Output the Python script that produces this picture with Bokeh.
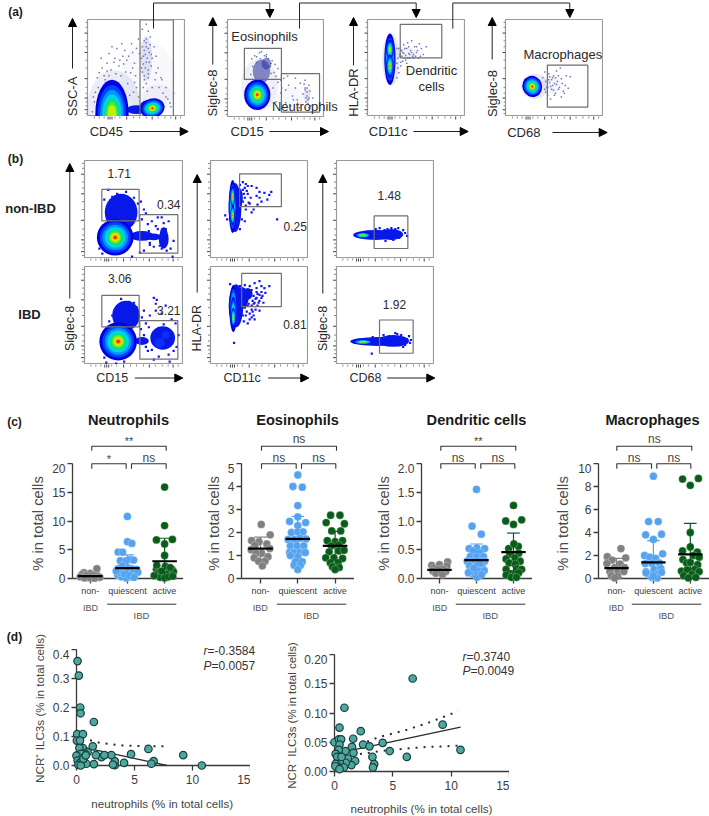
import math
from bokeh.plotting import figure
from bokeh.layouts import column
from bokeh.models import FixedTicker, Range1d, Label
from bokeh.embed import file_html
from bokeh.resources import INLINE

FONT = "Liberation Sans"
GRAY, BLUE, GREEN = "#808080", "#55a2ee", "#0a5c1a"
TEAL, TEAL_EDGE = "#4fa8a0", "#17403c"
TXT = "#3c3c3c"

# ---------- panel (c) data: (x jitter in category units, value) ----------
neu_gray_x = [.18, -.17, 0, -.22, .1, -.1, .2, -.27, -.05, .1, .26, -.15, 0, .12]
neu_gray_y = [1.7, 1.0, .9, .7, .6, .5, .45, .3, .3, .2, .2, .1, .1, .05]
neu_blue_x = [0, 0, .12, -.25, -.13, -.19, -.03, .08, .17, -.25, -.1, .11, .24, -.26, -.16, -.03, .09, .2, .02, -.2, -.08, .14, -.3, .28, .0, -.14, .06, .18]
neu_blue_y = [10.8, 6.4, 6.1, 4.6, 4.6, 3.1, 3.1, 3.3, 3.2, 1.7, 1.6, 1.7, 1.6, .6, .3, .1, .3, .6, 1.2, 1.0, .8, 1.0, 1.3, 1.1, 1.9, 2.2, .5, .2]
neu_green_x = [0, 0, -.22, .21, 0, 0, -.22, .2, -.18, .1, .24, -.12, 0, .11, -.21, .02, -.28, .22, -.08, .15]
neu_green_y = [15.9, 9.2, 6.7, 6.8, 6.0, 4.0, 1.6, 1.6, .9, .9, 1.2, .2, .1, .3, 2.3, 2.1, .5, .4, 1.3, 1.9]

eos_gray_x = [.02, .26, -.24, -.04, .17, -.15, .25, -.25, .03, -.12, .2, -.17, .12, -.05, .05]
eos_gray_y = [2.35, 1.9, 1.65, 1.6, 1.5, 1.45, 1.3, 1.25, 1.1, 1.1, .95, .9, .75, .75, .55]
eos_blue_x = [0, -.13, .12, 0, 0, -.22, .21, 0, -.17, 0, .14, -.26, -.09, .07, .22, -.2, -.02, .16, -.22, -.11, .07, .2, 0, -.2, -.06, .12, -.1, .07, 0]
eos_blue_y = [4.5, 4.0, 3.97, 3.17, 2.68, 2.48, 2.43, 2.3, 2.0, 2.03, 2.03, 1.7, 1.7, 1.75, 1.72, 1.42, 1.42, 1.42, 1.13, 1.13, 1.13, 1.13, .95, 1.0, .73, .73, .58, .58, .39]
eos_green_x = [-.12, .13, -.24, .25, -.09, .15, -.21, 0, .2, -.1, .1, -.16, .1, .24, -.25, -.03, .2, -.13, .08, -.07, .11, 0]
eos_green_y = [2.75, 2.75, 2.43, 2.38, 2.07, 2.07, 1.65, 1.6, 1.65, 1.42, 1.45, 1.16, 1.2, 1.23, .9, .9, .87, .68, .68, .51, .48, .39]

den_gray_x = [.22, .2, 0, -.21, -.16, .05, .12, -.08, -.18, .02, .17, -.1, .08]
den_gray_y = [.29, .22, .24, .23, .18, .17, .16, .15, .13, .12, .12, .09, .07]
den_blue_x = [0, -.12, .13, -.2, .01, .22, -.1, .1, -.17, 0, .19, -.25, -.09, .07, .22, -.19, -.02, .15, -.13, .06, .21, -.05, .01, -.22, .14, -.08, .1]
den_blue_y = [1.55, .91, .77, .52, .53, .52, .48, .45, .38, .38, .38, .3, .3, .3, .3, .22, .22, .22, .14, .14, .14, .08, .02, .1, .07, .18, .26]
den_green_x = [0, -.21, .22, 0, .13, -.13, .01, -.1, .14, -.2, .04, .18, -.12, .05, -.2, .1, .22, -.08, .04, -.2, .14, -.06, .08]
den_green_y = [1.27, 1.0, 1.02, .94, .56, .52, .6, .42, .44, .34, .36, .3, .27, .25, .16, .17, .16, .08, .07, .06, .1, .02, .02]

mac_gray_x = [.12, -.25, .25, -.12, -.26, .1, -.05, .22, -.18, .04, .2, -.14, .03, -.05]
mac_gray_y = [2.6, 1.9, 1.8, 1.6, 1.3, 1.25, .95, .95, .6, .55, .6, .25, .2, .05]
mac_blue_x = [0, -.13, .13, -.21, .22, 0, -.24, -.1, .06, .25, -.22, -.04, .16, -.2, .02, .2, -.12, .09, -.2, .22, -.04, .1, 0]
mac_blue_y = [8.9, 4.95, 4.95, 3.8, 3.85, 3.4, 2.0, 1.85, 1.75, 2.15, 1.3, 1.3, 1.35, .6, .8, .85, .35, .35, .5, .55, .1, .05, .2]
mac_green_x = [-.21, .22, 0, 0, 0, -.21, .19, -.2, .09, .24, -.1, 0, .2, -.24, -.09, .12, .24, -.18, .05, -.05, .15]
mac_green_y = [8.65, 8.7, 8.1, 4.0, 2.75, 2.4, 2.3, 1.65, 2.0, 1.85, 1.35, 1.4, 1.2, .65, .75, .8, .6, .25, .35, .05, .1]

c_means = {"Neutrophils": [.4, 1.8, 3.0], "Eosinophils": [1.3, 1.72, 1.42], "Dendritic": [.15, .32, .46], "Macrophages": [.9, 1.4, 2.1]}
c_hi = {"Neutrophils": [.9, 4.1, 7.0], "Eosinophils": [1.8, 2.7, 2.05], "Dendritic": [.2, .6, .79], "Macrophages": [1.75, 3.3, 4.8]}
c_lo = {"Neutrophils": [0, 0, 0], "Eosinophils": [.8, .75, .8], "Dendritic": [.1, .03, .13], "Macrophages": [.05, 0, 0]}
c_groups = {0: "non-", 1: "quiescent", 2: "active"}

# ---------- panel (d) data ----------
d1_x = [.09, .2, .32, .35, 1.5, .06, .55, .03, .3, 1.4, 6.2, 9.2, 10.8, 6.65, 6.45, 4.7, 4.1, 3.3, 3.3, 3.0, 3.15, 2.15, 2.4, 1.67, 1.5, .85, .55, .25, .95, .75, .4, 0, .45, .1, .3, .17, .37, .6, .8]
d1_y = [.36, .31, .2, .18, .15, .108, .108, .086, .086, .066, .057, .036, 0, .015, .006, .039, .009, .001, .015, .036, .003, .029, .036, .036, .005, .006, .06, .06, .046, .04, .04, .034, .025, .017, .009, .002, 0, .023, .035]
d1_fit_x, d1_fit_y = [0, 7.8], [.068, 0]
d1_band_x, d1_band_y = [.5, 2, 4, 6, 7.8], [.095, .078, .069, .066, .066]

d2_x = [6.7, .85, 9.27, .43, 2.25, 10.8, 1.6, 4.13, 0, .37, .57, .43, 2.45, 3.0, 1.5, 4.73, 6.2, 3.25, 1.63, .94, .37, .1, 3.4, 3.3, 1.77, 1.14, 1.45, .97, .45, .23, .6, .1, .37, .8, .08, .43]
d2_y = [.159, .109, .08, .075, .069, .037, .056, .049, .05, .055, .055, .046, .046, .043, .042, .035, .025, .025, .032, .035, .037, .03, .0125, .007, .018, .022, .011, .015, .016, .025, .025, .013, .007, .007, .009, .004]
d2_fit_x, d2_fit_y = [0, 10.8], [.03, .076]
d2_up_x, d2_up_y = [1.5, 4, 6, 8, 10.6], [.042, .06, .07, .083, .103]
d2_lo_x, d2_lo_y = [1.5, 4, 6, 8, 10.6], [.028, .035, .039, .042, .044]

# ---------- flow cytometry panels: gates, density blobs, sparse events ----------
LEVELS = [(1.0, "#0000e6"), (.84, "#0044ff"), (.70, "#0094ff"), (.57, "#00d4ea"), (.45, "#00e08c"),
          (.35, "#50e830"), (.26, "#c0f000"), (.18, "#ffd000"), (.12, "#ff7000"), (.07, "#ee1000")]
LEFT_TICKS = [.07, .19, .39, .66, .86]
LEFT_MINOR = [.03, .11, .15, .24, .30, .50, .58, .72, .78, .92, .97]
BOTTOM_TICKS = [.21, .23, .25, .4, .66, .9]
BOTTOM_MINOR = [.07, .12, .17, .28, .33, .47, .53, .6, .72, .79, .85, .95]

a1_gates = [(.536, .876, 0, .995)]
a1_haze = [(.27, .1, .54, .76, .12), (.6, .6, .12, .46, .16), (.62, .42, .55, .7, .04), (.72, .2, .32, .26, .08)]
a1_blue = [(.5, .07, .2, .09, 0), (.6, .09, .14, .15, 0)]
a1_blobs = [(.25, .03, .34, .7, 7, 0), (.663, .085, .25, .2, 10, .25)]
a1_dots_x = [.05, .08, .1, .12, .15, .18, .2, .24, .28, .32, .36, .4, .44, .48, .5, .53, .56, .6, .64, .68, .72, .76, .8, .07, .14, .22, .3, .38, .46, .52, .58, .62, .66, .7, .75, .48, .55, .6, .63, .57, .6, .62, .58, .65, .7, .82, .85, .45, .35, .25,
             .56, .58, .6, .62, .64, .55, .57, .59, .61, .63, .56, .59, .62, .65, .58, .6, .62, .57, .61, .6, .5, .47, .43, .41, .39, .34, .29, .22, .17, .11, .06, .49, .52, .66, .69, .73, .77, .8, .84, .88, .46, .42, .37, .33, .27, .2]
a1_dots_y = [.05, .25, .4, .45, .5, .38, .55, .48, .6, .52, .62, .58, .45, .55, .7, .65, .9, .95, .82, .72, .5, .38, .3, .15, .6, .65, .7, .68, .66, .8, .78, .88, .6, .45, .4, .35, .5, .72, .66, .62, .56, .48, .42, .52, .62, .18, .1, .75, .75, .72,
             .72, .68, .76, .7, .74, .6, .54, .64, .6, .56, .46, .5, .44, .64, .38, .34, .4, .3, .26, .8, .3, .25, .22, .34, .46, .42, .44, .42, .42, .3, .2, .42, .2, .3, .38, .3, .24, .2, .14, .24, .5, .62, .54, .58, .56, .47]

a2_gates = [(.174, .556, .389, .706), (.556, .949, .055, .447)]
a2_haze = [(.33, .33, .38, .54, .1), (.65, .2, .28, .22, .05), (.82, .22, .07, .16, .16)]
a2_blue = [(.35, .47, .18, .24, -2), (.4, .55, .1, .12, -2)]
a2_blobs = [(.307, .232, .27, .31, 10, 0)]
a2_dots_x = [.3, .25, .45, .5, .55, .58, .6, .63, .67, .7, .72, .75, .78, .8, .81, .82, .83, .84, .8, .84, .6, .65, .7, .5, .45, .4, .35, .55, .62, .68, .74, .52, .47,
             .26, .3, .34, .38, .42, .46, .49, .24, .28, .33, .4, .44, .48, .52, .56, .8, .82, .84, .81, .83, .85, .79, .82, .86, .88]
a2_dots_y = [.62, .6, .55, .42, .38, .4, .28, .33, .22, .3, .18, .35, .24, .3, .2, .26, .14, .1, .38, .33, .15, .12, .4, .16, .45, .62, .67, .25, .42, .18, .1, .5, .3,
             .52, .56, .6, .63, .6, .58, .54, .44, .63, .66, .64, .52, .46, .36, .3, .28, .22, .2, .16, .18, .27, .34, .3, .12, .2]

a3_gates = [(.334, .758, .604, .949)]
a3_haze = [(.24, .59, .18, .54, .14), (.38, .66, .24, .12, .06)]
a3_blue = []
a3_blobs = [(.229, .59, .115, .53, 4, 0), (.229, .69, .075, .2, 7, 0), (.229, .52, .075, .24, 10, 0)]
a3_dots_x = [.33, .36, .38, .4, .42, .44, .46, .48, .5, .52, .55, .57, .6, .34, .37, .41, .45, .49, .53, .35, .39, .43, .47, .51, .3, .31, .3,
             .31, .33, .35, .37, .39, .41, .43, .45, .32, .34, .36, .38, .4, .42, .3, .32, .34, .47, .5, .54]
a3_dots_y = [.62, .66, .6, .7, .65, .68, .62, .72, .66, .6, .7, .64, .72, .56, .74, .76, .78, .62, .75, .68, .58, .6, .6, .68, .7, .5, .4,
             .6, .64, .62, .65, .63, .6, .64, .66, .7, .68, .57, .7, .55, .72, .55, .45, .52, .64, .72, .62]

a4_gates = [(.427, .84, .096, .529)]
a4_haze = [(.3, .31, .28, .26, .14), (.47, .33, .2, .18, .06)]
a4_blue = []
a4_blobs = [(.273, .31, .2, .22, 10, .35)]
a4_dots_x = [.43, .45, .47, .49, .51, .53, .55, .57, .59, .44, .46, .48, .5, .52, .54, .58, .62, .6, .56, .66, .42, .4,
             .41, .43, .44, .46, .47, .49, .5, .52, .38, .4, .41, .45, .48, .51, .54, .57, .61, .64]
a4_dots_y = [.22, .35, .28, .42, .24, .36, .3, .2, .26, .44, .18, .4, .34, .47, .42, .34, .42, .24, .5, .41, .3, .46,
             .25, .3, .38, .31, .38, .27, .22, .33, .4, .28, .36, .41, .32, .4, .28, .39, .32, .29]

b11_gates = [(.175, .552, .383, .705), (.559, .943, .054, .447)]
b11_haze = []
b11_blue = [(.37, .47, .33, .38, 0), (.58, .23, .24, .1, 0), (.8, .2, .1, .2, 0), (.7, .22, .14, .07, 0), (.8, .27, .07, .1, 0)]
b11_blobs = [(.31, .215, .37, .37, 10, 0)]
b11_dots_x = [.24, .2, .28, .33, .42, .5, .54, .57, .6, .62, .58, .64, .68, .72, .76, .7, .66, .74, .78, .83, .87, .89, .85, .8, .78, .74, .6, .56, .65, .48, .18, .15, .17, .9, .82, .66]
b11_dots_y = [.7, .6, .63, .66, .68, .62, .56, .58, .5, .46, .4, .35, .38, .33, .13, .12, .14, .3, .1, .08, .1, .02, .38, .36, .42, .42, .08, .06, .28, .02, .05, .1, .18, .18, .3, .16]

b21_gates = [(.175, .552, .383, .705), (.559, .943, .054, .447)]
b21_haze = []
b21_blue = [(.42, .5, .28, .3, 0), (.79, .27, .25, .24, 0), (.58, .24, .14, .08, 0), (.76, .22, .1, .1, -1), (.82, .3, .08, .08, -1)]
b21_blobs = [(.34, .235, .38, .39, 10, 0)]
b21_dots_x = [.37, .45, .5, .53, .58, .62, .65, .6, .55, .66, .72, .78, .82, .88, .92, .95, .93, .85, .75, .7, .64, .6, .68, .73, .7, .72, .25, .28, .22, .2, .32, .4, .86, .9, .8, .62, .57]
b21_dots_y = [.67, .64, .63, .58, .48, .42, .38, .55, .5, .5, .62, .52, .6, .46, .42, .3, .18, .1, .08, .05, .14, .3, .15, .66, .68, .55, .44, .5, .02, .07, .01, .03, .03, .14, .41, .18, .36]

b12_gates = [(.297, .723, .529, .864)]
b12_haze = []
b12_blue = [(.25, .52, .13, .5, 0), (.29, .62, .08, .2, 0)]
b12_blobs = [(.226, .53, .08, .54, 4, 0), (.226, .63, .045, .22, 10, 0), (.226, .44, .045, .2, 10, 0)]
b12_dots_x = [.3, .33, .36, .38, .42, .47, .5, .55, .6, .62, .58, .52, .48, .35, .4, .44, .36, .31, .34, .38, .41, .3, .32, .35, .15, .17, .68, .42, .3, .5, .47, .33, .35, .37, .31, .33, .36, .39]
b12_dots_y = [.75, .78, .76, .74, .74, .72, .62, .67, .65, .68, .6, .58, .55, .62, .56, .5, .5, .55, .66, .66, .62, .45, .4, .38, .44, .4, .4, .47, .3, .68, .64, .7, .72, .69, .6, .58, .54, .57]

b22_gates = [(.318, .723, .59, .929)]
b22_haze = []
b22_blue = [(.26, .6, .15, .44, 0), (.32, .68, .14, .22, 0), (.38, .72, .1, .12, 0)]
b22_blobs = [(.233, .57, .08, .48, 3, 0), (.233, .52, .06, .34, 6, 0), (.233, .48, .045, .2, 10, 0)]
b22_dots_x = [.2, .3, .35, .4, .45, .5, .52, .47, .42, .55, .56, .53, .48, .44, .5, .46, .42, .38, .36, .42, .44, .6, .54, .5, .4, .38, .24, .34, .33, .45, .52, .47, .41, .44, .47, .5, .43, .46, .49, .52, .39, .42, .45, .48, .4, .43, .37, .35]
b22_dots_y = [.82, .8, .81, .8, .83, .85, .8, .78, .76, .78, .73, .7, .72, .62, .65, .56, .56, .6, .5, .48, .5, .8, .63, .55, .46, .42, .22, .44, .5, .46, .74, .68, .72, .7, .74, .71, .65, .67, .63, .68, .62, .6, .63, .6, .52, .54, .54, .58]

b13_gates = [(.384, .728, .102, .434)]
b13_haze = []
b13_blue = [(.4, .24, .46, .1, 0), (.56, .245, .24, .11, 0)]
b13_blobs = [(.27, .237, .17, .06, 10, 0)]
b13_dots_x = [.7, .66, .62, .64, .68, .6, .56, .52, .49, .44, .4, .72, .58, .63, .5]
b13_dots_y = [.26, .24, .27, .21, .29, .3, .31, .3, .29, .31, .3, .23, .19, .31, .18]

b23_gates = [(.439, .782, .115, .454)]
b23_haze = []
b23_blue = [(.42, .235, .56, .09, 0), (.58, .24, .32, .12, 0)]
b23_blobs = [(.27, .23, .21, .05, 10, 0)]
b23_dots_x = [.74, .75, .72, .7, .66, .6, .54, .48, .36, .76, .37, .68, .62]
b23_dots_y = [.29, .22, .26, .2, .3, .32, .29, .3, .11, .25, .28, .18, .31]

figs = []
PL = 50


def place(p, x, y):
    p.styles = {"position": "absolute", "left": f"{x}px", "top": f"{y}px", "max-width": "none", "max-height": "none"}
    figs.append(p)
    return p


def bare(p):
    p.grid.visible = False
    p.outline_line_color = None
    p.background_fill_color = None
    p.border_fill_color = None


flow_boxes = []


def flow(x0, x1, y0, y1, gates, haze, blue, blobs, dx, dy, dot_color, dot_size):
    w, h = round(x1 - x0), round(y1 - y0)
    p = figure(frame_width=w, frame_height=h, x_range=(0, 1), y_range=(0, 1), toolbar_location=None,
               output_backend="svg", min_border_left=PL, min_border_right=0, min_border_top=0, min_border_bottom=0,
               x_axis_location=None, y_axis_location=None)
    bare(p)
    p.outline_line_color = "#9a9a9a"
    p.outline_line_width = 1.2
    p.background_fill_color = "white"
    for cx, cy, wd, ht, al in haze:
        p.ellipse([cx], [cy], width=[wd], height=[ht], fill_color="#5a66b4", fill_alpha=al, line_color=None)
    if dx:
        p.scatter(dx, dy, size=dot_size, marker="square", color=dot_color, line_color=None)
    for cx, cy, wd, ht, ang in blue:
        col = "#0a30f8" if ang == -1 else ("#26309c" if ang == -2 else "#0818e8")
        p.ellipse([cx], [cy], width=[wd], height=[ht], fill_color=col, fill_alpha=(.55 if ang == -2 else 1),
                  line_color=None)
    for cx, cy, wd, ht, n, ang in blobs:
        for s, col in LEVELS[:n]:
            p.ellipse([cx], [cy], width=[wd * s], height=[ht * s], angle=ang, fill_color=col, line_color=None)
    for l, r, b, t in gates:
        p.quad(left=[l], right=[r], bottom=[b], top=[t], fill_color=None, line_color="#707070", line_width=1.2)
    flow_boxes.append((x0, y0, w, h))
    return place(p, x0 - PL, y0)


# panel (a)
FA, FB = "#6f78b8", 1.5
flow(87, 184.5, 19, 116, a1_gates, a1_haze, a1_blue, a1_blobs, a1_dots_x, a1_dots_y, FA, FB)
flow(227, 324, 19, 116.5, a2_gates, a2_haze, a2_blue, a2_blobs, a2_dots_x, a2_dots_y, FA, FB)
flow(367, 464.5, 19, 116, a3_gates, a3_haze, a3_blue, a3_blobs, a3_dots_x, a3_dots_y, FA, FB)
flow(505, 603, 19, 116, a4_gates, a4_haze, a4_blue, a4_blobs, a4_dots_x, a4_dots_y, FA, FB)
# panel (b)
BB, BS = "#1414f0", 2.2
flow(83.5, 182.5, 160, 258, b11_gates, b11_haze, b11_blue, b11_blobs, b11_dots_x, b11_dots_y, BB, BS)
flow(83.5, 182.5, 266, 364, b21_gates, b21_haze, b21_blue, b21_blobs, b21_dots_x, b21_dots_y, BB, BS)
flow(209.5, 308, 160, 258, b12_gates, b12_haze, b12_blue, b12_blobs, b12_dots_x, b12_dots_y, BB, BS)
flow(209.5, 308, 266, 364, b22_gates, b22_haze, b22_blue, b22_blobs, b22_dots_x, b22_dots_y, BB, BS)
flow(335.5, 433.5, 160, 258, b13_gates, b13_haze, b13_blue, b13_blobs, b13_dots_x, b13_dots_y, BB, BS)
flow(335.5, 433.5, 266, 364, b23_gates, b23_haze, b23_blue, b23_blobs, b23_dots_x, b23_dots_y, BB, BS)


def style_axis(ax, size="12px"):
    ax.axis_line_color = "#3a3a3a"
    ax.axis_line_width = 1.3
    ax.major_tick_line_color = "#3a3a3a"
    ax.major_tick_line_width = 1.3
    ax.minor_tick_line_color = None
    ax.major_tick_in, ax.major_tick_out = 0, 5
    ax.major_label_text_font = FONT
    ax.major_label_text_color = TXT
    ax.major_label_text_font_size = size
    ax.major_label_standoff = 2


def swarm(x0, y_top, y_zero, ymax, cat0, unit, ticks, labels, groups, key):
    fw = round(cat0 - x0 + 2.52 * unit)
    fh = round(y_zero - y_top)
    xs = -(cat0 - x0) / unit
    xe = xs + fw / unit
    p = figure(frame_width=fw, frame_height=fh, x_range=Range1d(xs, xe), y_range=Range1d(0, ymax),
               toolbar_location=None, output_backend="svg", min_border_left=PL, min_border_right=0,
               min_border_top=0, min_border_bottom=24)
    bare(p)
    style_axis(p.yaxis[0])
    style_axis(p.xaxis[0], "9px")
    p.yaxis.ticker = FixedTicker(ticks=ticks)
    p.yaxis.major_label_overrides = {t: l for t, l in zip(ticks, labels)}
    p.xaxis.ticker = FixedTicker(ticks=[0, 1, 2])
    p.xaxis.major_label_overrides = c_groups
    p.xaxis.major_label_standoff = 2
    place(p, x0 - PL, y_top)

    below = 6
    sc = ymax / fh
    q = figure(frame_width=fw, frame_height=fh + below + 6, x_range=Range1d(xs, xe),
               y_range=Range1d(-below * sc, ymax + 6 * sc), toolbar_location=None, output_backend="svg",
               min_border_left=PL, min_border_right=0, min_border_top=0, min_border_bottom=0,
               x_axis_location=None, y_axis_location=None)
    bare(q)
    for i, (gx, gy, col) in enumerate(groups):
        q.scatter([i + v for v in gx], gy, size=7.8, marker="circle", fill_color=col, line_color="#ffffff",
                  line_width=.25)
        hi, lo, mean = c_hi[key][i], c_lo[key][i], c_means[key][i]
        q.segment([i], [lo], [i], [hi], line_color=col, line_width=1.2)
        q.segment([i - .17, i - .17], [lo, hi], [i + .17, i + .17], [lo, hi], line_color=col, line_width=1.2)
        q.segment([i - .33], [mean], [i + .33], [mean], line_color="black", line_width=2.2)
    place(q, x0 - PL, y_top - 6)


swarm(72.3, 463.3, 578.3, 20, 90, 37.2, [0, 5, 10, 15, 20], ["0", "5", "10", "15", "20"],
      [(neu_gray_x, neu_gray_y, GRAY), (neu_blue_x, neu_blue_y, BLUE), (neu_green_x, neu_green_y, GREEN)], "Neutrophils")
swarm(240.7, 463.3, 578.3, 5, 259.7, 37.3, [0, 1, 2, 3, 4, 5], ["0", "1", "2", "3", "4", "5"],
      [(eos_gray_x, eos_gray_y, GRAY), (eos_blue_x, eos_blue_y, BLUE), (eos_green_x, eos_green_y, GREEN)], "Eosinophils")
swarm(421.3, 463.3, 578.3, 2, 439.3, 37, [0, .5, 1, 1.5, 2], ["0.0", "0.5", "1.0", "1.5", "2.0"],
      [(den_gray_x, den_gray_y, GRAY), (den_blue_x, den_blue_y, BLUE), (den_green_x, den_green_y, GREEN)], "Dendritic")
swarm(597.7, 463.3, 578.3, 10, 615.7, 36.9, [0, 2, 4, 6, 8, 10], ["0", "2", "4", "6", "8", "10"],
      [(mac_gray_x, mac_gray_y, GRAY), (mac_blue_x, mac_blue_y, BLUE), (mac_green_x, mac_green_y, GREEN)], "Macrophages")


def corr(x0, x15, y_top, y_zero, ymax, ticks, labels, px, py, lines):
    fw, fh = round(x15 - x0), round(y_zero - y_top)
    xu, yu = 15 / fw, ymax / fh
    p = figure(frame_width=fw, frame_height=fh, x_range=Range1d(0, 15), y_range=Range1d(0, ymax),
               toolbar_location=None, output_backend="svg", min_border_left=PL, min_border_right=0,
               min_border_top=0, min_border_bottom=24)
    bare(p)
    style_axis(p.yaxis[0])
    style_axis(p.xaxis[0])
    p.yaxis.ticker = FixedTicker(ticks=ticks)
    p.yaxis.major_label_overrides = {t: l for t, l in zip(ticks, labels)}
    p.xaxis.ticker = FixedTicker(ticks=[0, 5, 10, 15])
    p.xaxis.major_label_standoff = 4
    place(p, x0 - PL, y_top)

    m = 7
    q = figure(frame_width=fw + m, frame_height=fh + m + 6, x_range=Range1d(-m * xu, 15),
               y_range=Range1d(-m * yu, ymax + 6 * yu), toolbar_location=None, output_backend="svg",
               min_border_left=PL, min_border_right=0, min_border_top=0, min_border_bottom=0,
               x_axis_location=None, y_axis_location=None)
    bare(q)
    for lx, ly, dash in lines:
        if dash:
            q.line(lx, ly, line_color="#2a2a2a", line_width=2, line_dash="2 6")
        else:
            q.line(lx, ly, line_color="#2a2a2a", line_width=1.3)
    q.scatter(px, py, size=7.5, marker="circle", fill_color=TEAL, line_color=TEAL_EDGE, line_width=1.2)
    place(q, x0 - m - PL, y_top - 6)


corr(76.3, 250, 649, 765, .4, [0, .1, .2, .3, .4], ["0.0", "0.1", "0.2", "0.3", "0.4"], d1_x, d1_y,
     [(d1_fit_x, d1_fit_y, False), (d1_band_x, d1_band_y, True)])
corr(334, 509.3, 654, 771, .2, [0, .05, .1, .15, .2], ["0.00", "0.05", "0.10", "0.15", "0.20"], d2_x, d2_y,
     [(d2_fit_x, d2_fit_y, False), (d2_up_x, d2_up_y, True), (d2_lo_x, d2_lo_y, True)])

# ---------- overlay in page coordinates: annotation text, arrows, brackets ----------
ov = figure(frame_width=709, frame_height=816, x_range=Range1d(0, 709), y_range=Range1d(816, 0), toolbar_location=None,
            output_backend="svg", min_border_left=PL, min_border_right=0, min_border_top=0, min_border_bottom=0,
            x_axis_location=None, y_axis_location=None)
bare(ov)


def T(x, y, s, size=12, color=TXT, bold=False, rot=False, italic=False, align="center"):
    style = "bold" if bold else ("italic" if italic else "normal")
    ov.add_layout(Label(x=x, y=y, text=s, text_font=FONT, text_font_size=f"{size}px", text_color=color,
                        text_align=align, text_baseline="middle", angle=(math.pi / 2 if rot else 0),
                        text_font_style=style))


def arrow_h(x1, x2, y):
    ov.line([x1, x2 - 7], [y, y], line_color="#222222", line_width=1)
    ov.patch([x2 - 8, x2, x2 - 8], [y - 4, y, y + 4], color="black")


def arrow_v(x, y_bottom, y_top):
    ov.line([x, x], [y_bottom, y_top + 7], line_color="#222222", line_width=1)
    ov.patch([x - 4, x, x + 4], [y_top + 8, y_top, y_top + 8], color="black")


def connector(x1, y1, x2, y_top, y2):
    ov.line([x1, x1, x2, x2], [y1, y_top, y_top, y2 - 7], line_color="#222222", line_width=1)
    ov.patch([x2 - 4, x2, x2 + 4], [y2 - 8, y2, y2 - 8], color="black")


# tick marks of the flow plots
for x0, y0, w, h in flow_boxes:
    ov.segment([x0 - 3] * len(LEFT_TICKS), [y0 + h * (1 - t) for t in LEFT_TICKS], [x0] * len(LEFT_TICKS),
               [y0 + h * (1 - t) for t in LEFT_TICKS], line_color="#444444", line_width=1)
    ov.segment([x0 - 2] * len(LEFT_MINOR), [y0 + h * (1 - t) for t in LEFT_MINOR], [x0] * len(LEFT_MINOR),
               [y0 + h * (1 - t) for t in LEFT_MINOR], line_color="#888888", line_width=1)
    ov.segment([x0 + w * t for t in BOTTOM_TICKS], [y0 + h] * len(BOTTOM_TICKS), [x0 + w * t for t in BOTTOM_TICKS],
               [y0 + h + 3] * len(BOTTOM_TICKS), line_color="#444444", line_width=1)
    ov.segment([x0 + w * t for t in BOTTOM_MINOR], [y0 + h] * len(BOTTOM_MINOR), [x0 + w * t for t in BOTTOM_MINOR],
               [y0 + h + 2] * len(BOTTOM_MINOR), line_color="#888888", line_width=1)

for lab, x, y in (("(a)", 15, 11), ("(b)", 15, 158), ("(c)", 14, 421), ("(d)", 14, 636)):
    T(x, y, lab, 12, "#1a1a1a", bold=True)

connector(153, 28, 269.3, 2.5, 17)
connector(299, 28, 415.7, 2.5, 17)
connector(452.3, 28, 569.3, 2.5, 17)

for x, y, s, ya, yb in ((72, 96, "SSC-A", 68, 18), (212.3, 92.5, "Siglec-8", 64, 17), (353, 92, "HLA-DR", 65, 17),
                        (491.7, 93, "Siglec-8", 59, 17)):
    T(x, y, s, 13, "#2a2a2a", rot=True)
    arrow_v(x, ya, yb)
for x, s, xa, xb, y in ((105.8, "CD45", 129, 187.7, 131), (246.7, "CD15", 269, 328, 131), (387.7, "CD11c", 413, 467.7, 131),
                        (523.3, "CD68", 552, 606.7, 132)):
    T(x, y, s, 13, "#2a2a2a")
    arrow_h(xa, xb, y)
for x, y, s in ((264, 36, "Eosinophils"), (304.3, 106, "Neutrophils"), (431, 69.7, "Dendritic"), (431, 86.3, "cells"),
                (562.3, 53.7, "Macrophages")):
    T(x, y, s, 13, "#2a2a2a")

for x, y, s in ((118.7, 172.7, "1.71"), (168.3, 203.7, "0.34"), (119.3, 278.3, "3.06"), (168.3, 310, "3.21"),
                (294.7, 225.7, "0.25"), (294.5, 324.3, "0.81"), (388.7, 194.7, "1.48"), (394, 304, "1.92")):
    T(x, y, s, 12, "#2a2a2a")
T(30, 208, "non-IBD", 13, "#222222", bold=True)
T(29, 314, "IBD", 13, "#222222", bold=True)
for x, y, s, ya, yb in ((69.3, 328, "Siglec-8", 298, 163), (196.7, 327.7, "HLA-DR", 292, 174), (322.3, 328, "Siglec-8", 293, 174)):
    T(x, y, s, 12.5, "#2a2a2a", rot=True)
    arrow_v(x, ya, yb)
for x, s, xa, xb in ((111.7, "CD15", 134.3, 182.3), (241.7, "CD11c", 267.7, 308.3), (365, "CD68", 386.7, 434.3)):
    T(x, 377.5, s, 12.5, "#2a2a2a")
    arrow_h(xa, xb, 377.5)

# panel (c) annotation
for x, s, c0, c1, c2, top, lo1, lo2, hi_t, lo_t, sy in (
        (128, "Neutrophils", 90, 127.7, 164.3, (91.3, 165.7), (91.3, 125.7), (131, 165.7), "**", ("*", "ns"), 37),
        (297, "Eosinophils", 259.7, 297.3, 334.3, (261, 336), (261, 295.7), (301, 335.3), "ns", ("ns", "ns"), 213),
        (476, "Dendritic cells", 439.3, 476.3, 513.3, (440.3, 515.3), (440.3, 474.7), (480.3, 514.3), "**", ("ns", "ns"), 383),
        (652, "Macrophages", 615.7, 652.3, 689.3, (616.3, 691.3), (616.3, 651), (656.3, 690.3), "ns", ("ns", "ns"), 562)):
    T(x, 419.5, s, 14.6, "#1a1a1a", bold=True)
    T(sy, 523, "% in total cells", 14.8, "#4a4a4a", rot=True)
    for (a, b), y, h in ((top, 445.7, 4.5), (lo1, 463.3, 5), (lo2, 463.3, 5)):
        ov.line([a, a, b, b], [y + h, y, y, y + h], line_color="#333333", line_width=1.1)
    mid = (top[0] + top[1]) / 2
    T(mid, 440 if hi_t == "**" else 438.7, hi_t, 11 if hi_t == "**" else 12, "#444444")
    T((lo1[0] + lo1[1]) / 2, 458.5 if lo_t[0] == "*" else 457, lo_t[0], 11 if lo_t[0] == "*" else 12, "#444444")
    T((lo2[0] + lo2[1]) / 2, 457, lo_t[1], 12, "#444444")
    T(c0, 607, "IBD", 9, "#555555")
    ov.line([c1 - 21, c2 + 11.5], [603.7, 603.7], line_color="#333333", line_width=1)
    T((c1 + c2) / 2 - 5, 615, "IBD", 9.5, "#555555")

# panel (d) annotation
T(39, 708, "NCR\u207a ILC3s (% in total cells)", 11.7, "#444444", rot=True)
T(291.7, 715, "NCR\u207b ILC3s (% in total cells)", 11.5, "#444444", rot=True)
T(161.7, 803, "neutrophils (% in total cells)", 11.6, "#444444")
T(421, 808, "neutrophils (% in total cells)", 11.6, "#444444")
for x, y, a, b in ((203, 650.7, "r", "=-0.3584"), (203, 665, "P", "=0.0057"), (462, 656, "r", "=0.3740"), (462, 670.5, "P", "=0.0049")):
    T(x, y, a, 12, "#333333", italic=True, align="left")
    T(x + (4 if a == "r" else 8), y, b, 12, "#333333", align="left")

place(ov, -PL, 0)

root = column(*figs, width=693, height=800, sizing_mode="fixed")
open("out.html", "w").write(file_html(root, INLINE))
